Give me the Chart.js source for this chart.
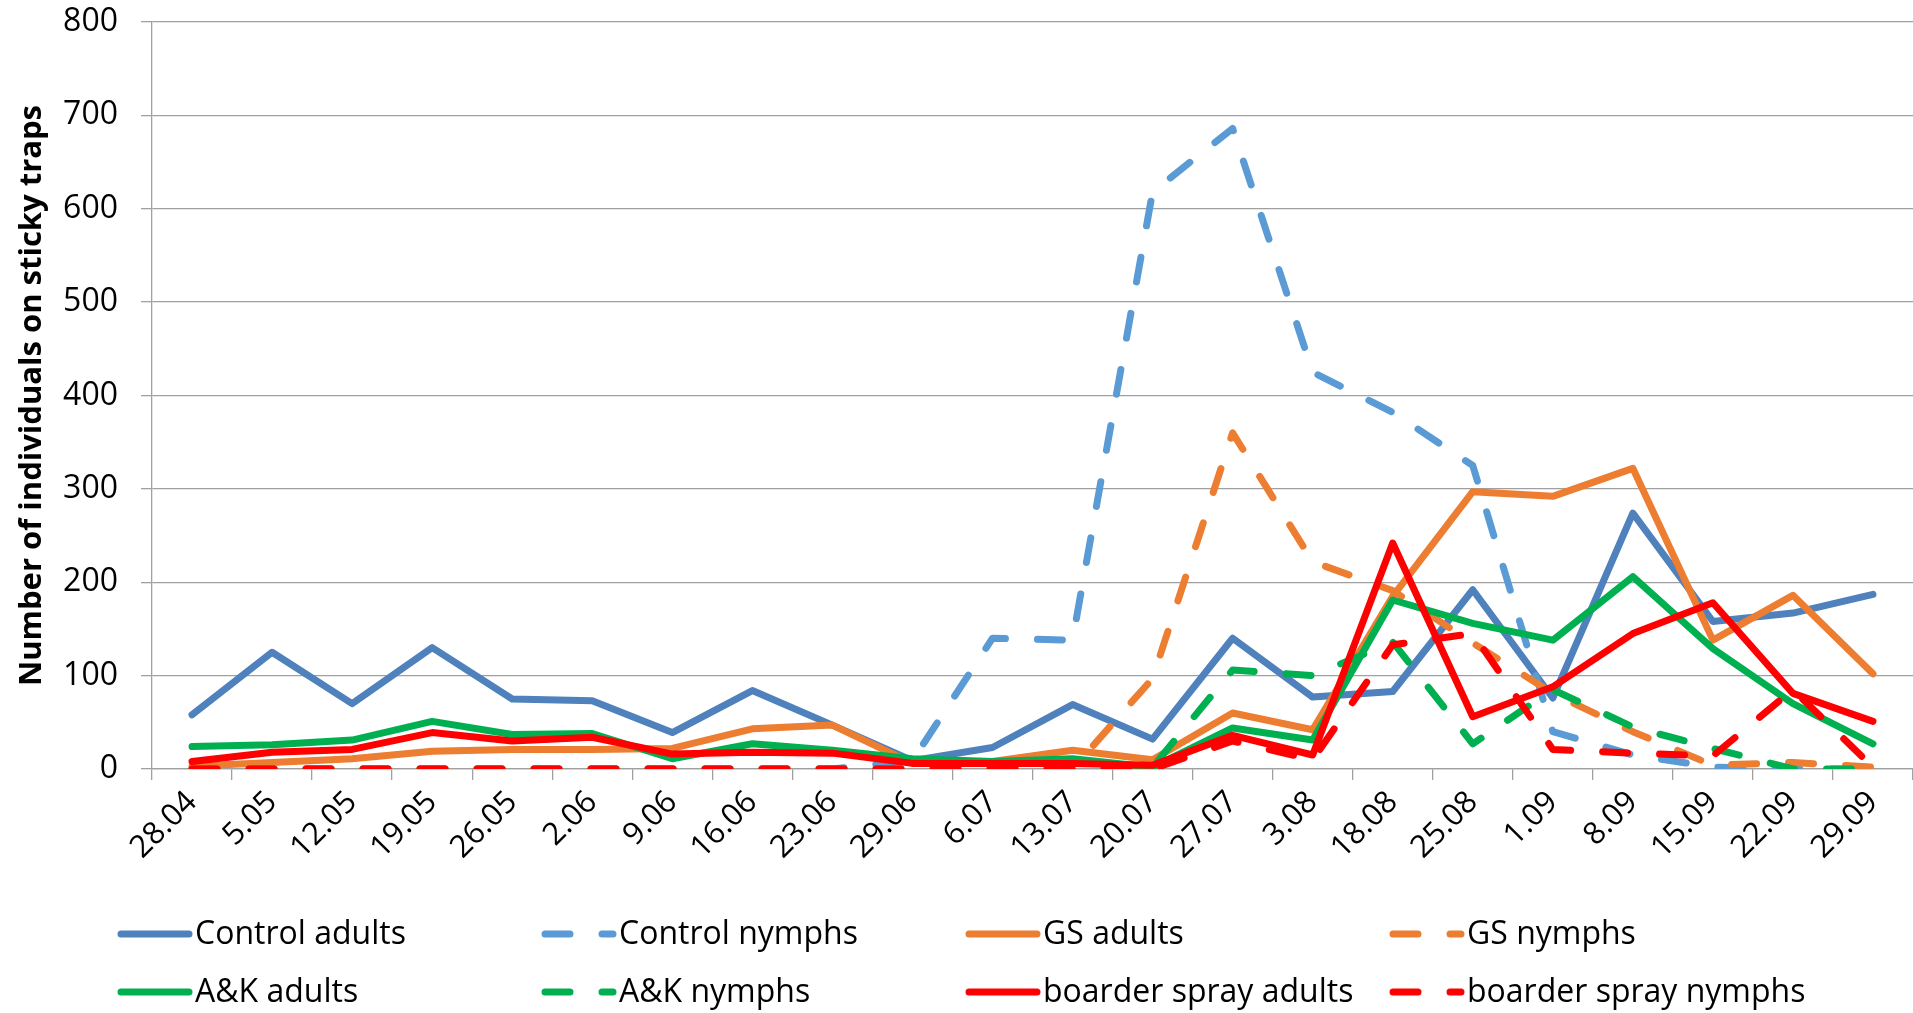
<!DOCTYPE html>
<html>
<head>
<meta charset="utf-8">
<title>Sticky trap counts</title>
<script src="https://cdn.jsdelivr.net/npm/chart.js@4.4.1/dist/chart.umd.min.js"></script>
<style>
    html, body { margin: 0; padding: 0; background: #fff; }
    canvas { display: block; }
</style>
</head>
<body>
<canvas id="trapChart" width="1913" height="1013"></canvas>
<script>
// sampling dates
const dates = ['28.04', '5.05', '12.05', '19.05', '26.05', '2.06', '9.06', '16.06', '23.06', '29.06', '6.07',
    '13.07', '20.07', '27.07', '3.08', '18.08', '25.08', '1.09', '8.09', '15.09', '22.09', '29.09'];

// individuals per trap
const controlAdults = [58, 125, 70, 130, 75, 73, 39, 84, 47, 9, 23, 69, 32, 140, 77, 83, 192, 76, 274, 158, 167, 187];
const controlNymphs = [0, 0, 0, 0, 0, 0, 0, 0, 0, 9, 140, 138, 618, 686, 425, 382, 325, 40, 15, 2, 0, 0];
const gsAdults = [3, 7, 11, 19, 21, 21, 22, 43, 47, 6, 8, 20, 10, 60, 42, 185, 297, 292, 322, 138, 186, 102];
const gsNymphs = [0, 0, 0, 0, 0, 0, 0, 0, 0, 0, 0, 0, 97, 360, 222, 191, 135, 81, 40, 4, 7, 2];
const akAdults = [24, 26, 31, 51, 37, 38, 11, 27, 20, 11, 8, 11, 2, 44, 31, 181, 156, 138, 206, 129, 70, 27];
const akNymphs = [0, 0, 0, 0, 0, 0, 0, 0, 0, 0, 0, 0, 2, 106, 100, 136, 27, 85, 45, 22, 0, 0];
const borderAdults = [8, 18, 21, 39, 30, 34, 16, 18, 17, 6, 6, 6, 4, 36, 15, 242, 56, 88, 145, 178, 81, 51];
const borderNymphs = [0, 0, 0, 0, 0, 0, 0, 0, 0, 0, 0, 0, 0, 30, 10, 133, 145, 21, 17, 14, 85, 2];

const yTicks = [0, 100, 200, 300, 400, 500, 600, 700, 800];

const FONT = "'Open Sans', 'DejaVu Sans', sans-serif";
const DASH = [25, 32];

function series(label, data, color, dashed, idx) {
    return {
        label: label,
        data: data,
        borderColor: color,
        backgroundColor: color,
        borderWidth: 7,
        borderDash: dashed ? DASH : [],
        borderCapStyle: 'round',
        borderJoinStyle: 'round',
        pointRadius: 0,
        tension: 0,
        fill: false,
        order: 10 - idx   // later series on top
    };
}

const datasets = [
    series('Control adults', controlAdults, '#4f81bd', false, 0),
    series('Control nymphs', controlNymphs, '#5b9bd5', true, 1),
    series('GS adults', gsAdults, '#ed7d31', false, 2),
    series('GS nymphs', gsNymphs, '#ed7d31', true, 3),
    series('A&K adults', akAdults, '#00b050', false, 4),
    series('A&K nymphs', akNymphs, '#00b050', true, 5),
    series('boarder spray adults', borderAdults, '#ff0000', false, 6),
    series('boarder spray nymphs', borderNymphs, '#ff0000', true, 7)
];

// two-row legend in fixed columns under the axis
const gridLegend = {
    id: 'gridLegend',
    afterDraw(chart) {
        const ctx = chart.ctx;
        ctx.save();
        ctx.font = '32px ' + FONT;
        ctx.textBaseline = 'middle';
        ctx.textAlign = 'left';
        chart.data.datasets.forEach((ds, i) => {
            const col = i % 4;
            const row = Math.floor(i / 4);
            const x = 121 + 424 * col;
            const y = 934 + 58 * row;
            ctx.strokeStyle = ds.borderColor;
            ctx.lineWidth = ds.borderWidth;
            ctx.lineCap = 'round';
            ctx.setLineDash(ds.borderDash);
            ctx.beginPath();
            ctx.moveTo(x, y);
            ctx.lineTo(x + 68, y);
            ctx.stroke();
            ctx.setLineDash([]);
            ctx.fillStyle = '#000';
            ctx.fillText(ds.label, x + 74, y + 1);
        });
        ctx.restore();
    }
};

const ctx = document.getElementById('trapChart').getContext('2d');
new Chart(ctx, {
    type: 'line',
    data: {
        labels: dates,
        datasets: datasets
    },
    options: {
        responsive: false,
        animation: false,
        devicePixelRatio: 1,
        layout: {
            padding: { top: 22, right: 0, bottom: 120, left: 0 }
        },
        plugins: {
            legend: { display: false },
            tooltip: { enabled: false }
        },
        scales: {
            x: {
                offset: true,
                grid: {
                    offset: true,
                    drawOnChartArea: false,
                    drawTicks: true,
                    tickLength: 11,
                    color: '#a0a0a0',
                    lineWidth: 1.3
                },
                border: { color: '#a0a0a0', width: 1.3 },
                ticks: {
                    minRotation: 45,
                    maxRotation: 45,
                    autoSkip: false,
                    padding: 4,
                    color: '#000',
                    font: { family: FONT, size: 31 }
                },
                afterFit(scale) { scale.height = 124; }
            },
            y: {
                min: 0,
                max: 800,
                afterBuildTicks(scale) {
                    scale.ticks = yTicks.map(v => ({ value: v }));
                },
                grid: {
                    color: '#a0a0a0',
                    lineWidth: 1.3,
                    tickLength: 11
                },
                border: { color: '#a0a0a0', width: 1.3 },
                ticks: {
                    padding: 23,
                    color: '#000',
                    font: { family: FONT, size: 32 }
                },
                title: {
                    display: true,
                    text: 'Number of individuals on sticky traps',
                    color: '#000',
                    font: { family: FONT, size: 31, weight: 'bold' },
                    padding: { top: 14, bottom: 0 }
                },
                afterFit(scale) {
                    scale.width = 152;
                    // label overhang is covered by the layout padding
                    scale.paddingTop = 0;
                    scale.paddingBottom = 0;
                }
            }
        }
    },
    plugins: [gridLegend]
});
</script>
</body>
</html>
